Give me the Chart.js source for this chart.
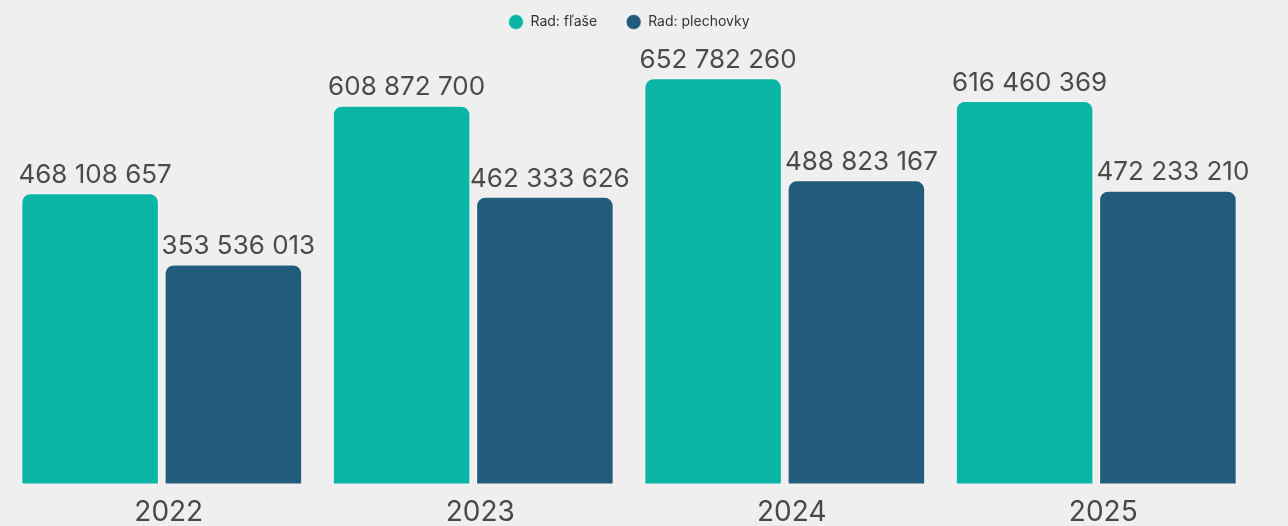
<!DOCTYPE html>
<html lang="sk">
<head>
    <meta charset="UTF-8">
    <title>Rad: fľaše / plechovky</title>
    <script src="https://cdn.jsdelivr.net/npm/chart.js"></script>
    <style>
        html, body {
            margin: 0;
            padding: 0;
            background: #efefef;
        }

        .wrap {
            width: 1288px;
            height: 526px;
        }
    </style>
</head>
<body>

    <div class="wrap">
        <canvas id="chart1" width="1288" height="526"></canvas>
    </div>

    <script>
        const years = ['2022', '2023', '2024', '2025'];
        const flase = [468108657, 608872700, 652782260, 616460369];
        const plechovky = [353536013, 462333626, 488823167, 472233210];
        const seriesNames = ['Rad: fľaše', 'Rad: plechovky'];

        const fmt = (v) => String(v).replace(/\B(?=(\d{3})+(?!\d))/g, ' ');

        // values above the bars
        const barValues = {
            id: 'barValues',
            afterDatasetsDraw(chart) {
                const ctx = chart.ctx;
                ctx.save();
                ctx.font = '26px Inter';
                ctx.fillStyle = '#4d4a48';
                ctx.textAlign = 'center';
                ctx.textBaseline = 'bottom';
                chart.data.datasets.forEach((ds, i) => {
                    chart.getDatasetMeta(i).data.forEach((bar, j) => {
                        ctx.fillText(fmt(ds.data[j]), bar.x + 5, bar.y - 5);
                    });
                });
                ctx.restore();
            }
        };

        const ctx = document.getElementById('chart1').getContext('2d');
        const chart1 = new Chart(ctx, {
            type: 'bar',
            data: {
                labels: years,
                datasets: [
                    {
                        label: seriesNames[0],
                        data: flase,
                        backgroundColor: '#0bb5a6',
                        borderColor: 'rgba(255,255,255,0.55)',
                        borderWidth: 1,
                        borderSkipped: false,
                        borderRadius: { topLeft: 9, topRight: 9 }
                    },
                    {
                        label: seriesNames[1],
                        data: plechovky,
                        backgroundColor: '#235b7c',
                        borderColor: 'rgba(255,255,255,0.55)',
                        borderWidth: 1,
                        borderSkipped: false,
                        borderRadius: { topLeft: 9, topRight: 9 }
                    }
                ]
            },
            options: {
                responsive: false,
                animation: false,
                categoryPercentage: 0.92,
                barPercentage: 0.96,
                layout: {
                    padding: { left: 6, right: 36, top: -14, bottom: -6 }
                },
                scales: {
                    x: {
                        grid: { display: false },
                        border: { display: false },
                        ticks: {
                            color: '#4a4745',
                            font: { family: 'Inter', size: 28 },
                            padding: 3,
                            labelOffset: 7
                        }
                    },
                    y: {
                        display: false,
                        min: 0,
                        max: 716000000
                    }
                },
                plugins: {
                    legend: {
                        position: 'top',
                        labels: {
                            usePointStyle: true,
                            pointStyle: 'circle',
                            boxWidth: 10.6,
                            boxHeight: 10.6,
                            pointStyleWidth: 15,
                            padding: 29,
                            color: '#333',
                            font: { family: 'Inter', size: 14 }
                        }
                    },
                    tooltip: { enabled: false }
                }
            },
            plugins: [barValues]
        });
    </script>

</body>
</html>
